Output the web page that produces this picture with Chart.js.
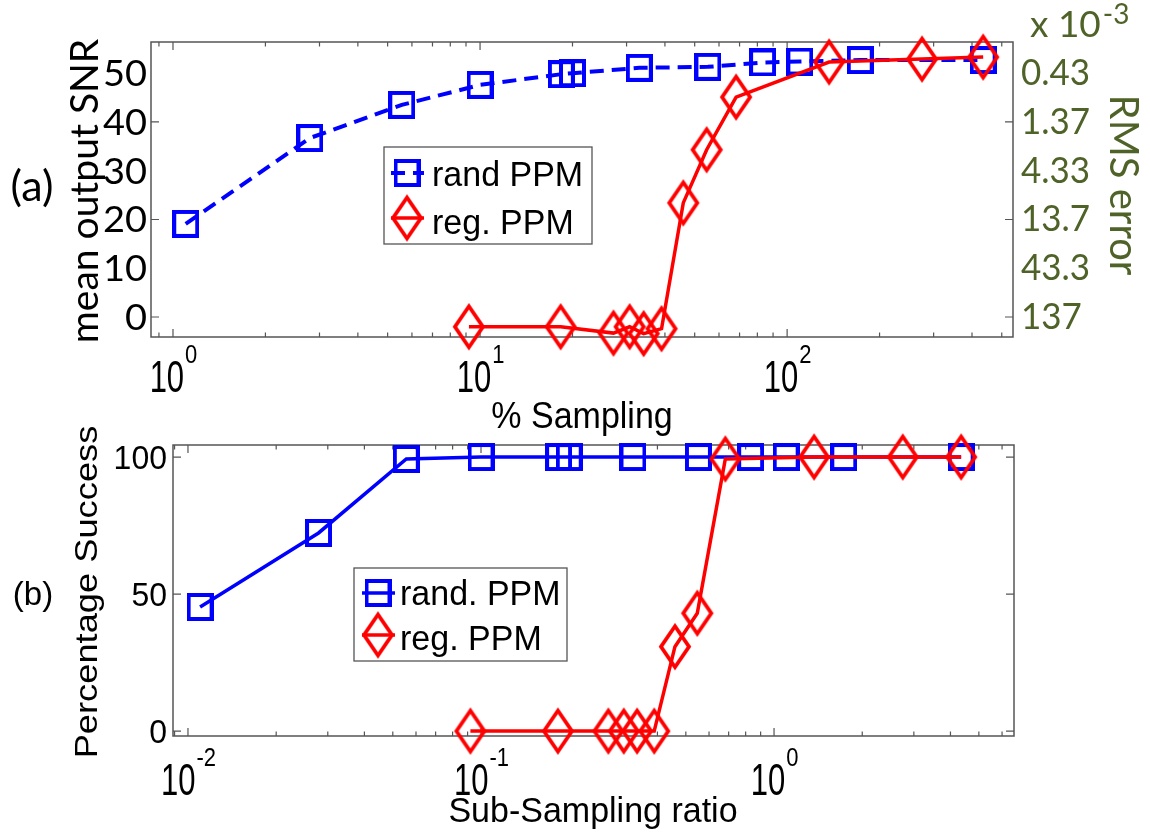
<!DOCTYPE html>
<html>
<head>
<meta charset="utf-8">
<script src="https://cdn.jsdelivr.net/npm/chart.js@4.4.1/dist/chart.umd.min.js"></script>
<style>
  html, body { margin: 0; padding: 0; background: #fff; }
  #wrap { position: relative; width: 1150px; height: 832px; }
  canvas { position: absolute; left: 0; }
  #snr { top: 0; }
  #succ { top: 416px; }
</style>
</head>
<body>
<div id="wrap">
  <canvas id="snr" width="1150" height="445"></canvas>
  <canvas id="succ" width="1150" height="416"></canvas>
</div>
<script>
// (a) mean output SNR against % sampling
const pctRand = [1.10, 2.79, 5.56, 10, 18.4, 20, 33, 55.2, 83.2, 110, 173, 435];
const snrRand = [19.1, 36.7, 43.5, 47.6, 49.8, 50.0, 51.1, 51.3, 52.2, 52.4, 52.7, 52.7];
const pctReg = [9.2, 18.3, 27.2, 30.7, 34.1, 39, 45.9, 54.7, 68.2, 137, 275, 435];
const snrReg = [-2.0, -2.0, -3.3, -2.0, -3.4, -2.4, 23.4, 34.3, 45.1, 52.3, 52.9, 53.3];
const snrTickLabels = [0, 10, 20, 30, 40, 50];
const snrTickMarks = [0, 20, 40];
const rmsTickLabels = ['137', '43.3', '13.7', '4.33', '1.37', '0.43'];
const pctDecades = [1, 10, 100];
const pctExps = ['0', '1', '2'];

// (b) percentage success against sub-sampling ratio
const ratioRand = [0.0110, 0.0279, 0.0556, 0.1, 0.184, 0.2, 0.33, 0.552, 0.832, 1.10, 1.73, 4.35];
const succRand = [45.3, 72.3, 99.3, 100, 100, 100, 100, 100, 100, 100, 100, 100];
const ratioReg = [0.092, 0.183, 0.272, 0.307, 0.341, 0.39, 0.459, 0.547, 0.682, 1.37, 2.75, 4.35];
const succReg = [0, 0, 0, 0, 0, 0, 30.8, 43.0, 99.3, 100, 100, 100];
const succTicks = [0, 50, 100];
const ratioDecades = [0.01, 0.1, 1];
const ratioExps = ['-2', '-1', '0'];

const BLUE = '#0000ff';
const RED = '#ff0000';
const OLIVE = '#4f6228';
const AXIS = '#555555';
const ARIAL = '"Liberation Sans", Arial, sans-serif';
const CALIBRI = 'Lato, "Open Sans", sans-serif';

// open square and tall open diamond, used as point styles
function squareMarker(w, h, lw, color) {
  const c = document.createElement('canvas');
  c.width = w; c.height = h;
  const g = c.getContext('2d');
  g.strokeStyle = color; g.lineWidth = lw;
  g.strokeRect(lw / 2, lw / 2, w - lw, h - lw);
  return c;
}
function diamondMarker(w, h, lw, color) {
  const c = document.createElement('canvas');
  const pad = 5;
  c.width = w + pad * 2; c.height = h + pad * 2;
  const g = c.getContext('2d');
  g.strokeStyle = color; g.lineWidth = lw; g.lineJoin = 'miter';
  const cx = c.width / 2, cy = c.height / 2;
  g.beginPath();
  g.moveTo(cx, cy - h / 2);
  g.lineTo(cx + w / 2, cy);
  g.lineTo(cx, cy + h / 2);
  g.lineTo(cx - w / 2, cy);
  g.closePath();
  g.stroke();
  return c;
}
const square = squareMarker(27, 28, 4, BLUE);
const diamond = diamondMarker(28, 41, 3.8, RED);

function pts(xs, ys) { return xs.map((x, i) => ({ x: x, y: ys[i] })); }

function text(ctx, s, x, y, o) {
  ctx.save();
  ctx.translate(x, y);
  if (o.rot) ctx.rotate(o.rot);
  ctx.scale(o.sx || 1, o.sy || 1);
  ctx.font = o.font;
  ctx.fillStyle = o.color || '#000';
  ctx.textAlign = o.align || 'left';
  ctx.textBaseline = 'alphabetic';
  ctx.fillText(s, 0, 0);
  ctx.restore();
}

function textWidth(ctx, s, font) {
  ctx.font = font;
  return ctx.measureText(s).width;
}

function powerLabel(ctx, exp, x, base, supBase) {
  const f1 = '31px ' + ARIAL, f2 = '22px ' + ARIAL;
  const w1 = textWidth(ctx, '10', f1);
  const w2 = textWidth(ctx, exp, f2);
  const x0 = x - (w1 + w2) / 2;
  text(ctx, '10', x0, base, { font: f1, sy: 1.45 });
  text(ctx, exp, x0 + w1 + 1, supBase, { font: f2, sy: 1.2 });
}

// box, inward ticks, tick labels, titles and legend in the MATLAB style
function frame(cfg) {
  return {
    id: 'frame',
    beforeDatasetsDraw(chart) {
      const { ctx, chartArea: a, scales } = chart;
      const xs = scales.x, ys = scales.y;
      ctx.save();
      ctx.strokeStyle = AXIS;
      ctx.lineWidth = 1.5;
      ctx.strokeRect(a.left, a.top, a.right - a.left, a.bottom - a.top);
      ctx.lineWidth = 1.2;
      ctx.beginPath();
      const k0 = Math.floor(Math.log10(xs.min)), k1 = Math.ceil(Math.log10(xs.max));
      for (let k = k0; k <= k1; k++) {
        for (let m = 1; m <= 9; m++) {
          const v = m * Math.pow(10, k);
          if (v < xs.min || v > xs.max) continue;
          const px = xs.getPixelForValue(v);
          const len = m === 1 ? 8 : 4.5;
          ctx.moveTo(px, a.bottom); ctx.lineTo(px, a.bottom - len);
          ctx.moveTo(px, a.top); ctx.lineTo(px, a.top + len);
        }
      }
      cfg.yMarks.forEach(v => {
        const py = ys.getPixelForValue(v);
        ctx.moveTo(a.left, py); ctx.lineTo(a.left + 8, py);
        ctx.moveTo(a.right, py); ctx.lineTo(a.right - 8, py);
      });
      ctx.stroke();
      ctx.restore();
    },
    afterDraw(chart) {
      const { ctx, scales } = chart;
      cfg.decades.forEach((v, i) => {
        powerLabel(ctx, cfg.exps[i], scales.x.getPixelForValue(v), cfg.xBase, cfg.supBase);
      });
      cfg.yLabels.forEach(v => {
        text(ctx, String(v), cfg.yLabelX, scales.y.getPixelForValue(v) + cfg.yLabelDy,
          { font: cfg.yLabelFont, align: 'right', sy: cfg.yLabelSy });
      });
      cfg.extra(ctx, chart);
      // legend
      const L = cfg.legend;
      ctx.save();
      ctx.fillStyle = '#fff';
      ctx.fillRect(L.x, L.y, L.w, L.h);
      ctx.strokeStyle = AXIS;
      ctx.lineWidth = 1.3;
      ctx.strokeRect(L.x, L.y, L.w, L.h);
      ctx.restore();
      L.rows.forEach(r => {
        const ds = chart.data.datasets[r.ds];
        ctx.save();
        ctx.strokeStyle = ds.borderColor;
        ctx.lineWidth = ds.borderWidth;
        ctx.setLineDash(ds.borderDash || []);
        ctx.beginPath();
        ctx.moveTo(L.lineX0, r.y); ctx.lineTo(L.lineX1, r.y);
        ctx.stroke();
        ctx.restore();
        const im = ds.pointStyle;
        ctx.drawImage(im, L.markX - im.width / 2, r.y - im.height / 2);
        text(ctx, ds.label, L.textX, r.base, { font: '34px ' + ARIAL, sy: 1.05 });
      });
    }
  };
}

const baseOptions = (pad, xmin, xmax, ymin, ymax) => ({
  responsive: false,
  animation: false,
  devicePixelRatio: 1,
  layout: { padding: pad },
  scales: {
    x: { type: 'logarithmic', min: xmin, max: xmax, display: false },
    y: { type: 'linear', min: ymin, max: ymax, display: false }
  },
  elements: { line: { tension: 0, fill: false } },
  plugins: { legend: { display: false }, tooltip: { enabled: false } }
});

new Chart(document.getElementById('snr'), {
  type: 'line',
  data: {
    datasets: [
      { label: 'rand PPM', data: pts(pctRand, snrRand), borderColor: BLUE, borderWidth: 4,
        borderDash: [14, 8], pointStyle: square, pointRadius: 12, order: 1, clip: false },
      { label: 'reg. PPM', data: pts(pctReg, snrReg), borderColor: RED, borderWidth: 3.5,
        pointStyle: diamond, pointRadius: 12, order: 0, clip: false }
    ]
  },
  options: baseOptions({ left: 151, right: 137, top: 42, bottom: 108 }, 0.848, 544, -4.1, 56.4),
  plugins: [frame({
    yMarks: snrTickMarks,
    decades: pctDecades, exps: pctExps, xBase: 392, supBase: 363,
    yLabels: snrTickLabels, yLabelX: 147, yLabelDy: 13, yLabelFont: '38px ' + CALIBRI, yLabelSy: 0.95,
    legend: { x: 384, y: 147, w: 208, h: 97, lineX0: 391, lineX1: 424, markX: 407, textX: 432,
      rows: [{ ds: 0, y: 173, base: 186 }, { ds: 1, y: 218, base: 234 }] },
    extra(ctx, chart) {
      const ys = chart.scales.y;
      snrTickLabels.forEach((v, i) => {
        text(ctx, rmsTickLabels[i], 1021, ys.getPixelForValue(v) + 12,
          { font: '35px ' + CALIBRI, color: OLIVE, sy: 1.05 });
      });
      // "x 10^-3" scale factor above the right axis
      const fx = '37px ' + CALIBRI;
      const wx = textWidth(ctx, 'x 10', fx);
      text(ctx, 'x 10', 1030, 37, { font: fx, color: OLIVE, sy: 1.0 });
      text(ctx, '-3', 1030 + wx + 2, 24, { font: '28px ' + CALIBRI, color: OLIVE, sy: 1.05 });
      text(ctx, 'RMS error', 1110, 185, { font: '40px ' + CALIBRI, color: OLIVE, rot: Math.PI / 2, align: 'center' });
      text(ctx, 'mean output SNR', 98, 191, { font: '39px ' + CALIBRI, rot: -Math.PI / 2, align: 'center' });
      text(ctx, '(a)', 32, 201, { font: '43px ' + CALIBRI, align: 'center' });
      text(ctx, '% Sampling', 582, 428, { font: '34px ' + ARIAL, align: 'center', sy: 1.08 });
    }
  })]
});

new Chart(document.getElementById('succ'), {
  type: 'line',
  data: {
    datasets: [
      { label: 'rand. PPM', data: pts(ratioRand, succRand), borderColor: BLUE, borderWidth: 3.5,
        pointStyle: square, pointRadius: 12, order: 1, clip: false },
      { label: 'reg. PPM', data: pts(ratioReg, succReg), borderColor: RED, borderWidth: 3.5,
        pointStyle: diamond, pointRadius: 12, order: 0, clip: false }
    ]
  },
  options: baseOptions({ left: 173, right: 136, top: 29, bottom: 96 }, 0.00889, 6.59, -1.8, 104.4),
  plugins: [frame({
    yMarks: succTicks,
    decades: ratioDecades, exps: ratioExps, xBase: 379, supBase: 350,
    yLabels: succTicks, yLabelX: 167, yLabelDy: 12, yLabelFont: '32px ' + ARIAL, yLabelSy: 1.05,
    legend: { x: 354, y: 152, w: 213, h: 93, lineX0: 362, lineX1: 395, markX: 378, textX: 400,
      rows: [{ ds: 0, y: 177, base: 189 }, { ds: 1, y: 219, base: 234 }] },
    extra(ctx) {
      text(ctx, 'Percentage Success', 97, 176, { font: '31px ' + ARIAL, rot: -Math.PI / 2, align: 'center', sx: 1.17 });
      text(ctx, '(b)', 33, 189, { font: '33px ' + ARIAL, align: 'center' });
      text(ctx, 'Sub-Sampling ratio', 593, 406, { font: '34px ' + ARIAL, align: 'center', sy: 1.05 });
    }
  })]
});
</script>
</body>
</html>
